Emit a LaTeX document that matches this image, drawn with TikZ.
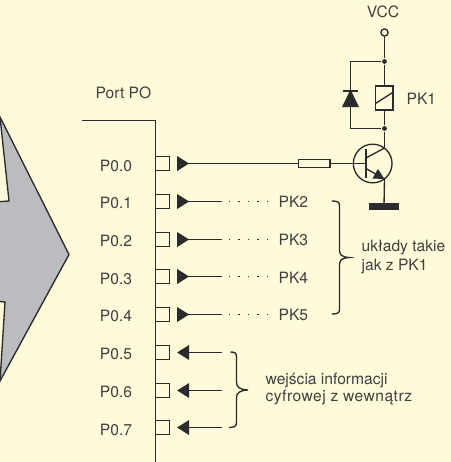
\documentclass[tikz,border=0pt]{standalone}
\usepackage{fontspec}
\setmainfont{TeX Gyre Heros}
\usetikzlibrary{arrows.meta}
\definecolor{paper}{RGB}{255, 250, 217}
\definecolor{ink}{RGB}{43, 42, 44}
\definecolor{bodygray}{RGB}{187, 188, 192}

\begin{document}
\begin{tikzpicture}[x=0.75pt, y=-0.75pt,
	line width=1pt, draw=ink, every node/.style={text=ink!90, font=\fontsize{11.7}{14}\selectfont, inner sep=0pt},
	pinbox/.style={draw, rectangle, minimum size=10.5pt, line width=1pt},
	outwire/.style={{Triangle[reversed, length=9pt, width=11pt]}-, shorten <=5.2pt},
	inwire/.style={-{Triangle[length=9pt, width=11pt]}, shorten >=5.2pt},
	dotwire/.style={line width=0.9pt, dash pattern=on 0.9pt off 6.2pt},
	junction/.style={circle, fill=ink, minimum size=3.6pt}]
	\useasboundingbox (0,0) rectangle (451,462);
	\fill[paper] (0,0) rectangle (451,462);
	\clip (0,0) rectangle (451,462);

	% Big arrow on the left
	\draw[fill=bodygray] (0,117) -- (69,254.5) -- (0,381) -- (5,302) -- (-6,301) -- (-6,202) -- (9,201) -- cycle;

	% Port outline
	\draw (82,120.5) -- (155.5,120.5) -- (155.5,464);
	\node (port) at (123.5,93) {Port PO};

	% Nodes - Pins
	\node[pinbox] (S0) at (162.5,163.5) {};
	\node[pinbox] (S1) at (162.5,201.5) {};
	\node[pinbox] (S2) at (162.5,239.5) {};
	\node[pinbox] (S3) at (162.5,276.5) {};
	\node[pinbox] (S4) at (162.5,314.5) {};
	\node[pinbox] (S5) at (162.5,352.5) {};
	\node[pinbox] (S6) at (162.5,390.5) {};
	\node[pinbox] (S7) at (162.5,427.5) {};

	% Nodes - Pin names
	\node (P0) at (116,165.5) {P0.0};
	\node (P1) at (116,203) {P0.1};
	\node (P2) at (116,241) {P0.2};
	\node (P3) at (116,278.5) {P0.3};
	\node (P4) at (116,316) {P0.4};
	\node (P5) at (116,354) {P0.5};
	\node (P6) at (116,392) {P0.6};
	\node (P7) at (116,429.5) {P0.7};

	% Nodes - Outputs
	\coordinate (W1) at (222,201.5);
	\coordinate (W2) at (222,239.5);
	\coordinate (W3) at (222,276.5);
	\coordinate (W4) at (222,314.5);
	\node[anchor=west] (PK2) at (278,202) {PK2};
	\node[anchor=west] (PK3) at (278,240) {PK3};
	\node[anchor=west] (PK4) at (278,277.5) {PK4};
	\node[anchor=west] (PK5) at (278,315) {PK5};

	% Nodes - Inputs
	\coordinate (W5) at (222,352.5);
	\coordinate (W6) at (222,390.5);
	\coordinate (W7) at (222,427.5);

	% Nodes - Relay stage
	\node (VCC) at (383,12) {VCC};
	\node[draw, circle, fill=paper, minimum size=5.4pt, line width=1pt] (TOP) at (384.5,32.5) {};
	\node[junction] (J1) at (384.5,61.5) {};
	\node[junction] (J2) at (384.5,128.5) {};
	\node[draw, rectangle, minimum width=13pt, minimum height=18pt] (K) at (384.5,98) {};
	\node[anchor=west] (PK1) at (406,98.5) {PK1};
	\node[draw, rectangle, minimum width=23.5pt, minimum height=5.8pt] (R) at (314.3,163.5) {};
	\node[draw, circle, minimum size=29pt] (T) at (372.7,163.5) {};
	\coordinate (BASE) at (366,163.5);
	\coordinate (COLL) at (384.5,148);
	\coordinate (EMIT) at (384.5,179);
	\node[rectangle, fill=ink, minimum width=22.5pt, minimum height=4.6pt] (GND) at (384,206.5) {};
	\coordinate (DT) at (350.5,61.5);
	\coordinate (DB) at (350.5,128.5);
	\coordinate (DA) at (350.5,91);
	\coordinate (DC) at (350.5,106.5);

	% Edges
	\draw[outwire] (S0.east) -- (R.west); \draw (R.east) -- (BASE);
	\draw[outwire] (S1.east) -- (W1); \draw[outwire] (S2.east) -- (W2);
	\draw[outwire] (S3.east) -- (W3); \draw[outwire] (S4.east) -- (W4);
	\draw[dotwire] (229,201.5) -- (269,201.5); \draw[dotwire] (229,239.5) -- (269,239.5);
	\draw[dotwire] (229,276.5) -- (269,276.5); \draw[dotwire] (229,314.5) -- (269,314.5);
	\draw[inwire] (W5) -- (S5.east); \draw[inwire] (W6) -- (S6.east); \draw[inwire] (W7) -- (S7.east);
	\draw (TOP) -- (J1) -- (K.north); \draw (K.south) -- (J2) -- (COLL);
	\draw (K.south west)++(0,-7) -- ++(17.3,-11);
	\draw (J1) -- (DT) -- (DB) -- (J2);
	\draw[fill=ink] (DA) -- (343,106.5) -- (358,106.5) -- cycle;
	\draw[line width=1.6pt] (342.8,91) -- (358.2,91);
	\draw[line width=1.3pt] (366,149) -- (366,178);
	\draw (366,158) -- (COLL);
	\draw[-{Triangle[length=8pt, width=8pt]}] (366,168.5) -- (EMIT);
	\draw (EMIT) -- (GND);

	% Braces
	\draw (332,201) .. controls (338,201) and (339.5,202) .. (339.5,206) -- (339.5,250) .. controls (339.5,255) and (342,257) .. (349,257.5) .. controls (342,258) and (339.5,260) .. (339.5,265) -- (339.5,309) .. controls (339.5,313) and (338,314) .. (332,314);
	\draw (230.5,352) .. controls (235,352) and (236.5,353) .. (236.5,357) -- (236.5,382) .. controls (236.5,387) and (239,389.5) .. (248,390) .. controls (239,390.5) and (236.5,393) .. (236.5,398) -- (236.5,422) .. controls (236.5,426) and (235,427.5) .. (229,427.5);

	% Descriptions
	\node[anchor=west] (upper1) at (361,248) {układy takie};
	\node[anchor=west] (upper2) at (361,267) {jak z PK1};
	\node[anchor=west] (lower1) at (265,380) {wejścia informacji};
	\node[anchor=west] (lower2) at (265,398) {\addfontfeature{LetterSpace=3}cyfrowej z wewnątrz};
\end{tikzpicture}
\end{document}
